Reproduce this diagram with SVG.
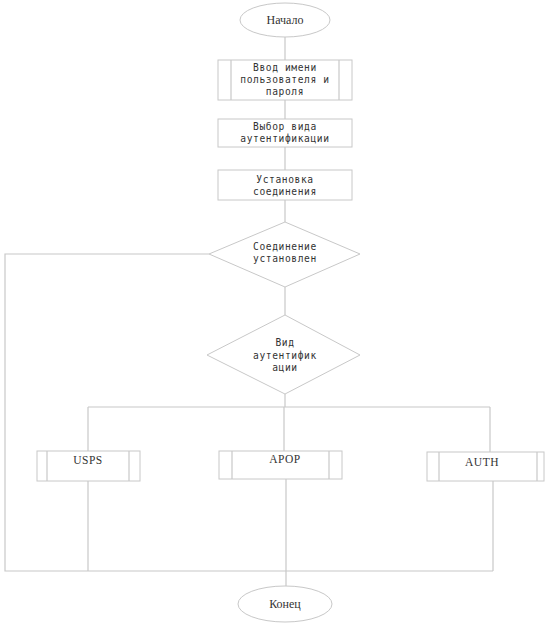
<svg xmlns="http://www.w3.org/2000/svg" width="549" height="623" viewBox="0 0 549 623">
<style>
.s{fill:#fff;stroke:#c8c8c8;stroke-width:1}
.c{fill:none;stroke:#c8c8c8;stroke-width:1.2}
.t{font-family:"DejaVu Sans Mono","Liberation Mono",monospace;font-size:9.6px;letter-spacing:0.6px;fill:#333;text-anchor:middle}
.r{font-family:"Liberation Serif","DejaVu Serif",serif;font-size:12px;fill:#333;text-anchor:middle}
.m{font-family:"Liberation Serif","DejaVu Serif",serif;font-size:11.5px;letter-spacing:0.5px;fill:#333;text-anchor:middle}
</style>
<rect width="549" height="623" fill="#fff"/>
<g id="connectors">
<path class="c" d="M285 37V60M285 100V119M285 147V170M285 200V222M285 287V315M285 394V407M88 407H490M88 407V451M284 407V451M490 407V452"/>
<path class="c" d="M209 254H5V571H493M88 481V571M286 479V586M493 481V571"/>
</g>
<g id="start"><ellipse class="s" cx="285" cy="20" rx="45" ry="17"/><text class="r" x="285" y="24">Начало</text></g>
<g id="input"><rect class="s" x="218" y="60" width="134" height="40"/><path class="c" d="M231 60V100M339 60V100"/>
<text class="t" x="285" y="71">Ввод имени</text><text class="t" x="285" y="83">пользователя и</text><text class="t" x="285" y="95">пароля</text></g>
<g id="choose"><rect class="s" x="218" y="119" width="134" height="28"/>
<text class="t" x="285" y="130">Выбор вида</text><text class="t" x="285" y="142">аутентификации</text></g>
<g id="connect"><rect class="s" x="218" y="170" width="134" height="30"/>
<text class="t" x="285" y="183">Установка</text><text class="t" x="285" y="195">соединения</text></g>
<g id="established"><polygon class="s" points="285,222 360,254 285,287 209,254"/>
<text class="t" x="285" y="250">Соединение</text><text class="t" x="285" y="262">установлен</text></g>
<g id="authtype"><polygon class="s" points="285,315 360,355 285,394 207,355"/>
<text class="t" x="285" y="346">Вид</text><text class="t" x="285" y="359">аутентифик</text><text class="t" x="285" y="371">ации</text></g>
<g id="usps"><rect class="s" x="37" y="451" width="103" height="30"/><path class="c" d="M47 451V481M129 451V481"/><text class="m" x="88" y="464">USPS</text></g>
<g id="apop"><rect class="s" x="219" y="451" width="123" height="28"/><path class="c" d="M232 451V479M329 451V479"/><text class="m" x="285" y="463">APOP</text></g>
<g id="auth"><rect class="s" x="427" y="452" width="117" height="29"/><path class="c" d="M439 452V481M537 452V481"/><text class="m" x="482" y="466">AUTH</text></g>
<g id="end"><ellipse class="s" cx="285" cy="604" rx="47" ry="18"/><text class="r" x="285" y="608">Конец</text></g>
</svg>
